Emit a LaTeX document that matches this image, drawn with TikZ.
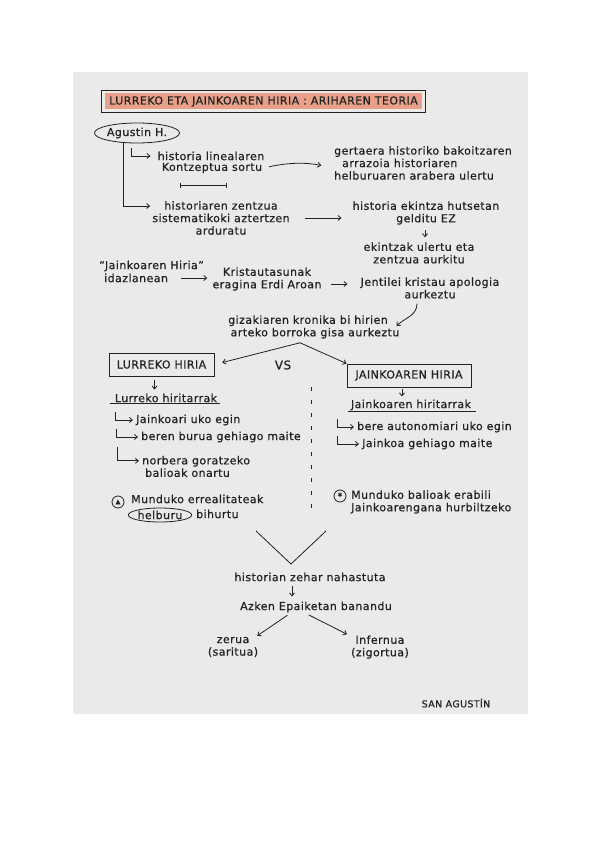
\documentclass[tikz,border=0pt]{standalone}
\usepackage{fontspec}
\newfontfamily\hand[LetterSpace=4,FakeBold=0.6]{DejaVu Sans}
\usetikzlibrary{arrows.meta,shapes.geometric}
\definecolor{ink}{HTML}{222222}
\definecolor{paper}{HTML}{EAEAE8}
\definecolor{salmon}{HTML}{E8A08A}
\tikzset{
  txt/.style={text=ink, inner sep=1pt, align=center, font=\hand\fontsize{11}{12.5}\selectfont},
  ltxt/.style={txt, align=left},
  capt/.style={txt, font=\hand\fontsize{11}{12}\selectfont},
  boxed/.style={capt, draw=ink, line width=0.9pt, minimum height=23pt},
  arr/.style={draw=ink, line width=0.8pt, -{Straight Barb[length=3pt,width=5pt]}},
  plain/.style={draw=ink, line width=0.8pt},
}
\begin{document}
\begin{tikzpicture}[x=1pt,y=-1pt]
\useasboundingbox (0,0) rectangle (600,848);
\fill[white] (0,0) rectangle (600,848);
\fill[paper] (73,72) rectangle (528,714);

% title
\node[capt, fill=salmon, minimum width=317pt, minimum height=16pt] (title) at (263.5,101.5)
  {LURREKO ETA JAINKOAREN HIRIA : ARIHAREN TEORIA};
\draw[plain] ([xshift=-3pt,yshift=-3pt]title.south west) rectangle ([xshift=3pt,yshift=3pt]title.north east);

% Agustin
\node[txt, draw=ink, line width=0.8pt, ellipse, minimum width=72pt, minimum height=20pt, inner sep=0pt] (agu) at (137,133) {Agustin H.};

\node[txt] (hl1) at (211,156) {historia linealaren};
\node[txt] (hl2) at (212,168) {Kontzeptua sortu};
\draw[plain, {Bar[width=5pt]}-{Bar[width=5pt]}] (180,185) -- (227,185);

\node[ltxt, anchor=west] (gert) at (333,163) {gertaera historiko bakoitzaren\\\hspace*{8pt}arrazoia historiaren\\helburuaren arabera ulertu};

\node[txt] (hz) at (221,218) {historiaren zentzua\\sistematikoki aztertzen\\arduratu};

\node[txt] (he) at (426,213) {historia ekintza hutsetan\\gelditu EZ};
\node[txt] (ek) at (419,253) {ekintzak ulertu eta\\zentzua aurkitu};

\node[txt, anchor=west] (jh1) at (98,266) {“Jainkoaren Hiria”};
\node[txt, anchor=west] (jh2) at (103,278) {idazlanean};
\node[txt] (kr) at (267,279) {Kristautasunak\\eragina Erdi Aroan};
\node[txt] (je) at (430,288) {Jentilei kristau apologia\\aurkeztu};

\node[txt] (giz) at (308,327) {gizakiaren kronika bi hirien\\\hspace*{14pt}arteko borroka gisa aurkeztu};

\node[boxed, minimum width=105pt] (lur) at (161.5,364.5) {LURREKO HIRIA};
\node[capt, font=\hand\fontsize{12}{12}\selectfont] (vs) at (283,365) {VS};
\node[boxed, minimum width=124pt] (jain) at (409,375.5) {JAINKOAREN HIRIA};

\node[txt] (lh) at (166,398) {Lurreko hiritarrak};
\node[txt] (jhh) at (411,405) {Jainkoaren hiritarrak};
\draw[plain] ([xshift=-4pt]lh.south west) -- ([xshift=2pt]lh.south east);
\draw[plain] ([xshift=-2pt]jhh.south west) -- ([xshift=4pt]jhh.south east);

\draw[plain, dash pattern=on 4pt off 9pt] (311,387) -- (311,517);

\node[ltxt, anchor=west] (l1) at (135,420) {Jainkoari uko egin};
\node[ltxt, anchor=west] (l2) at (140,437) {beren burua gehiago maite};
\node[ltxt, anchor=west] (l3) at (141,466.5) {norbera goratzeko\\\hspace*{3pt}balioak onartu};
\node[ltxt, anchor=west] (r1) at (356,427) {bere autonomiari uko egin};
\node[ltxt, anchor=west] (r2) at (361,444) {Jainkoa gehiago maite};

\node[circle, draw=ink, line width=0.8pt, minimum size=12pt, inner sep=0pt, font=\hand\fontsize{6}{6}\selectfont, text=ink] (sl) at (118,502) {▲};
\node[ltxt, anchor=west] (mu) at (130,499) {Munduko errealitateak};
\node[txt, draw=ink, line width=0.8pt, ellipse, minimum width=57pt, minimum height=14pt, inner sep=0pt] (helb) at (160,515) {helburu};
\node[ltxt, anchor=west] (bih) at (195,514) {bihurtu};

\node[circle, draw=ink, line width=0.8pt, minimum size=12pt, inner sep=0pt, font=\hand\fontsize{9}{9}\selectfont, text=ink] (sr) at (340,496) {*};
\node[ltxt, anchor=west] (mb) at (350,502) {Munduko balioak erabili\\Jainkoarengana hurbiltzeko};

\draw[plain] (256,531) -- (291,564) -- (326,531);

\node[txt] (hist) at (310,577) {historian zehar nahastuta};
\node[txt] (azk) at (316,607) {Azken Epaiketan banandu};
\node[txt] (zer) at (233,647) {zerua\\(saritua)};
\node[txt] (inf) at (380,647) {Infernua\\(zigortua)};
\node[capt, font=\hand\fontsize{9.5}{11}\selectfont] (san) at (456,703) {SAN AGUSTÍN};

% connectors
\draw[arr, shorten >=1pt] ([xshift=-14pt]agu.south) |- ([yshift=-6pt]hz.north west);
\draw[arr, shorten >=6pt] ([xshift=-25pt,yshift=8pt]hl1.west) |- (hl1.west);
\draw[arr, shorten <=6pt, shorten >=12pt] (hl2.east) to[bend left=12] (hl2.east -| gert.west);
\draw[arr, shorten <=14pt, shorten >=10pt] (hz.east) -- (hz.east -| he.west);
\draw[arr, shorten <=4pt, shorten >=4pt] ([xshift=-1pt]he.south) -- ([xshift=-1pt]he.south |- ek.north);
\draw[arr, shorten <=12pt, shorten >=4pt] (jh2.east) -- (jh2.east -| kr.west);
\draw[arr, shorten <=8pt, shorten >=12pt] ([yshift=-5pt]kr.east) -- ([yshift=-5pt]kr.east -| je.west);
\draw[arr] ([xshift=-13pt,yshift=-4pt]je.south) .. controls +(0,12) and +(8,-8) .. ([xshift=-4pt,yshift=1pt]giz.east);
\draw[arr, shorten >=8pt] ([xshift=-8pt,yshift=-3pt]giz.south) -- (lur.east);
\draw[arr] ([xshift=-8pt,yshift=-3pt]giz.south) -- (jain.north west);
\draw[arr, shorten <=4pt, shorten >=3pt] ([xshift=-7pt]lur.south) -- ([xshift=-7pt]lur.south |- lh.north);
\draw[arr, shorten <=2pt, shorten >=2pt] ([xshift=-7pt]jain.south) -- ([xshift=-7pt]jain.south |- jhh.north);
\draw[arr, shorten >=2pt] ([xshift=-20pt,yshift=8pt]l1.west) |- (l1.west);
\draw[arr, shorten >=2pt] ([xshift=-24pt,yshift=8pt]l2.west) |- (l2.west);
\draw[arr, shorten >=2pt] ([xshift=-24pt,yshift=8pt]l3.north west) |- ([yshift=-6pt]l3.north west);
\draw[arr, shorten >=2pt] ([xshift=-19pt,yshift=8pt]r1.west) |- (r1.west);
\draw[arr, shorten >=2pt] ([xshift=-24pt,yshift=8pt]r2.west) |- (r2.west);
\draw[arr, shorten <=4pt, shorten >=4pt] ([xshift=-18pt]hist.south) -- ([xshift=-18pt]hist.south |- azk.north);
\draw[arr, shorten <=3pt] ([xshift=-26pt]azk.south) -- ([xshift=-2pt]zer.north east);
\draw[arr, shorten <=3pt] ([xshift=-10pt]azk.south) -- ([xshift=-3pt]inf.north west);
\end{tikzpicture}
\end{document}
